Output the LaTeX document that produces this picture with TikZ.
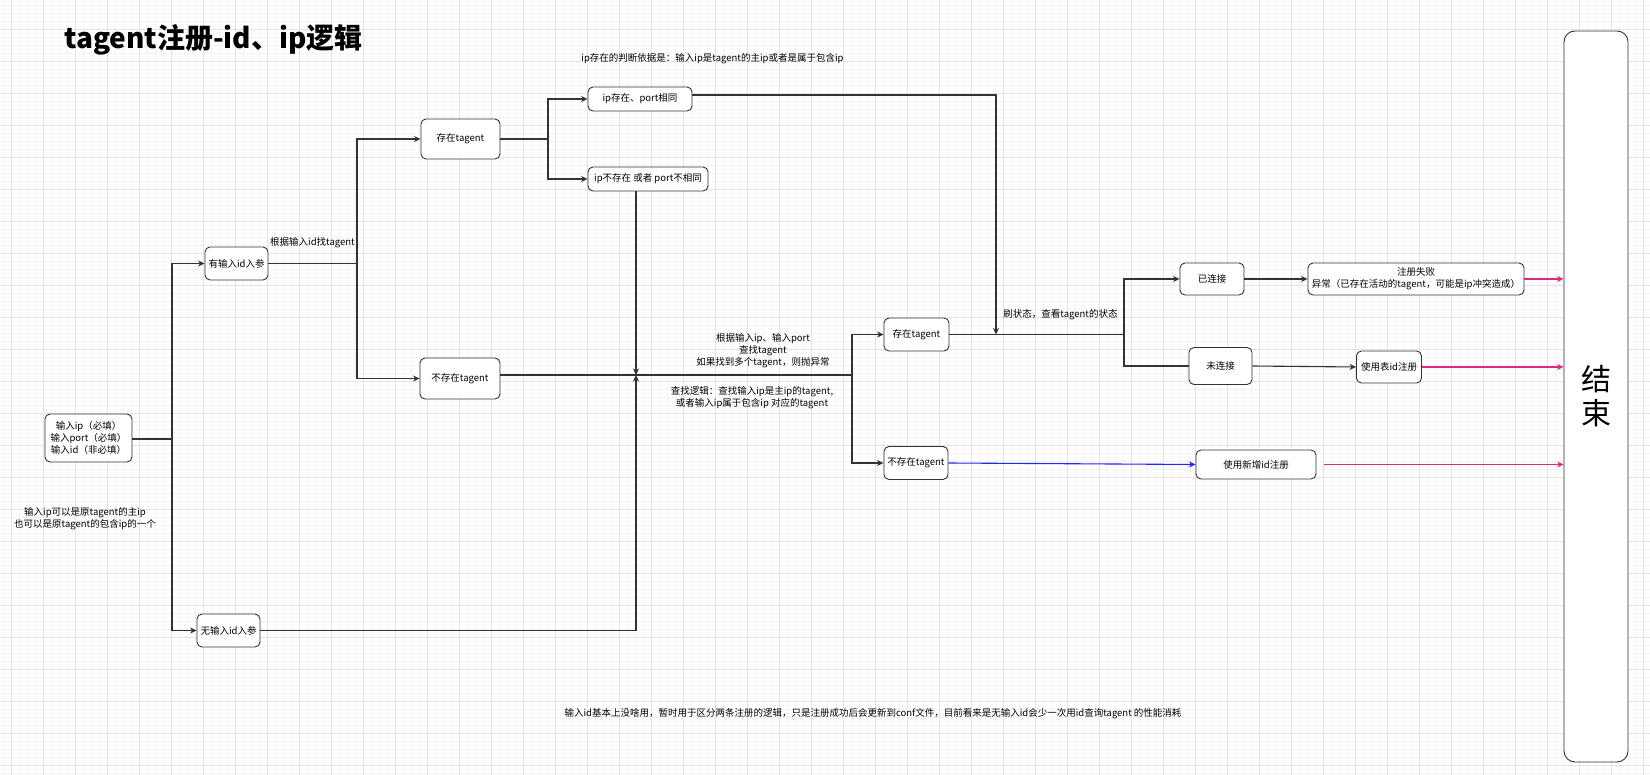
\documentclass[tikz,border=0pt]{standalone}
\usepackage{fontspec}
\setmainfont{Noto Sans CJK SC}
\usetikzlibrary{arrows.meta,calc}
\definecolor{gridmin}{HTML}{F3F3F3}
\definecolor{gridmaj}{HTML}{E3E3E3}
\definecolor{edgec}{HTML}{333333}
\definecolor{pinkc}{HTML}{E0287D}
\definecolor{bluec}{HTML}{2424EE}
\tikzset{
  box/.style={draw=edgec, line width=0.9pt, rounded corners=5pt, fill=white, inner sep=1pt, align=center},
  conn/.style={draw=edgec, line width=1.1pt},
  arr/.style={conn, -{Stealth[length=6.5pt,width=6pt,inset=2pt]}},
  parr/.style={draw=pinkc, line width=1.1pt, -{Stealth[length=6.5pt,width=6pt,inset=2pt]}},
  barr/.style={draw=bluec, line width=1.1pt, -{Stealth[length=6.5pt,width=6pt,inset=2pt]}},
  lbl/.style={align=center, inner sep=0pt},
}
\begin{document}
\begin{tikzpicture}[x=1pt,y=-1pt, font=\fontsize{9.5}{12}\selectfont]
\useasboundingbox (0,0) rectangle (1650,775);
\fill[white] (0,0) rectangle (1650,775);
% grid
\foreach \i in {0,...,206} \draw[gridmin, line width=0.8pt] ({3.7+8*\i},0) -- ({3.7+8*\i},775);
\foreach \i in {0,...,97} \draw[gridmin, line width=0.8pt] (0,{5.3+8*\i}) -- (1650,{5.3+8*\i});
\foreach \i in {0,...,51} \draw[gridmaj, line width=0.9pt] ({11.7+32*\i},0) -- ({11.7+32*\i},775);
\foreach \i in {0,...,24} \draw[gridmaj, line width=0.9pt] (0,{29.3+32*\i}) -- (1650,{29.3+32*\i});

% title
\node[anchor=west, inner sep=0pt, font=\fontsize{28}{32}\selectfont\bfseries] (title) at (64,40) {tagent注册-id、ip逻辑};

% nodes
\node[box, minimum width=87pt, minimum height=48pt] (in) at (88.5,438) {输入ip（必填）\\输入port（必填）\\输入id（非必填）};
\node[box, minimum width=63pt, minimum height=33pt] (has) at (236.5,263.5) {有输入id入参};
\node[box, minimum width=63pt, minimum height=33pt] (no) at (228.5,630.5) {无输入id入参};
\node[box, minimum width=79pt, minimum height=40pt] (cz1) at (460.5,139) {存在tagent};
\node[box, minimum width=80pt, minimum height=41pt] (bcz1) at (460,378.5) {不存在tagent};
\node[box, minimum width=104pt, minimum height=24pt] (ipsame) at (640,99) {ip存在、port相同};
\node[box, minimum width=120pt, minimum height=24pt] (ipdiff) at (648,179) {ip不存在 或者 port不相同};
\node[box, minimum width=65pt, minimum height=33pt] (cz2) at (916.5,334.5) {存在tagent};
\node[box, minimum width=64pt, minimum height=33pt] (bcz2) at (916,463) {不存在tagent};
\node[box, minimum width=64pt, minimum height=32pt] (yl) at (1212,279) {已连接};
\node[box, minimum width=216pt, minimum height=32pt] (fail) at (1416,279) {注册失败\\异常（已存在活动的tagent，可能是ip冲突造成）};
\node[box, minimum width=63pt, minimum height=37pt] (wl) at (1220.5,366) {未连接};
\node[box, minimum width=65pt, minimum height=32pt] (biao) at (1389,367) {使用表id注册};
\node[box, minimum width=120pt, minimum height=29pt] (xin) at (1256,464.5) {使用新增id注册};
\node[box, rounded corners=11pt, minimum width=64pt, minimum height=731pt, font=\fontsize{30}{34}\selectfont] (end) at (1596,396.5) {结\\束};

% labels
\node[lbl] (l0) at (312.5,243) {根据输入id找tagent};
\node[lbl] (l1) at (712.5,59) {ip存在的判断依据是：输入ip是tagent的主ip或者是属于包含ip};
\node[lbl] (l2) at (763,351) {根据输入ip、输入port\\查找tagent\\如果找到多个tagent，则抛异常};
\node[lbl] (l3) at (752,398) {查找逻辑：查找输入ip是主ip的tagent,\\或者输入ip属于包含ip 对应的tagent};
\node[lbl] (l4) at (1060.5,315) {刷状态，查看tagent的状态};
\node[lbl] (l5) at (85,518.5) {输入ip可以是原tagent的主ip\\也可以是原tagent的包含ip的一个};
\node[lbl] (l6) at (873,714) {输入id基本上没啥用，暂时用于区分两条注册的逻辑，只是注册成功后会更新到conf文件，目前看来是无输入id会少一次用id查询tagent 的性能消耗};

% junction coordinates
\coordinate (j1) at (172,439);
\coordinate (j2) at (357,263.5);
\coordinate (j3) at (548,139);
\coordinate (j4) at (636,375);
\coordinate (j5) at (852,375);
\coordinate (j7) at (996,334.5);
\coordinate (j8) at (1124,334.5);

% connectors
\draw[conn] (in.east |- j1) -- (j1);
\draw[arr] (j1) |- (has.west);
\draw[arr] (j1) |- (no.west);
\draw[conn] (has.east) -- (j2);
\draw[arr] (j2) |- (cz1.west);
\draw[arr] (j2) |- (bcz1.west);
\draw[conn] (cz1.east) -- (j3);
\draw[arr] (j3) |- (ipsame.west);
\draw[arr] (j3) |- (ipdiff.west);
\draw[conn] (bcz1.east |- j4) -- (j5);
\draw[arr] (ipdiff.south -| j4) -- (j4);
\draw[arr] (no.east) -- (no.east -| j4) -- (j4);
\draw[arr] (j5) |- (cz2.west);
\draw[arr] (j5) |- (bcz2.west);
\draw[arr] ($(ipsame.east)+(0,-4)$) -| (j7);
\draw[conn] (cz2.east) -- (j8);
\draw[arr] (j8) |- (yl.west);
\draw[conn] (j8) |- (wl.west);
\draw[arr] (yl.east) -- (fail.west);
\draw[arr] (wl.east) -- (biao.west);
\draw[barr] (bcz2.east) -- (xin.west);
\draw[parr] (fail.east) -- (fail.east -| end.west);
\draw[parr] (biao.east) -- (biao.east -| end.west);
\draw[parr] ($(xin.east)+(8,0)$) -- ($(xin.east -| end.west)$);
\end{tikzpicture}
\end{document}
